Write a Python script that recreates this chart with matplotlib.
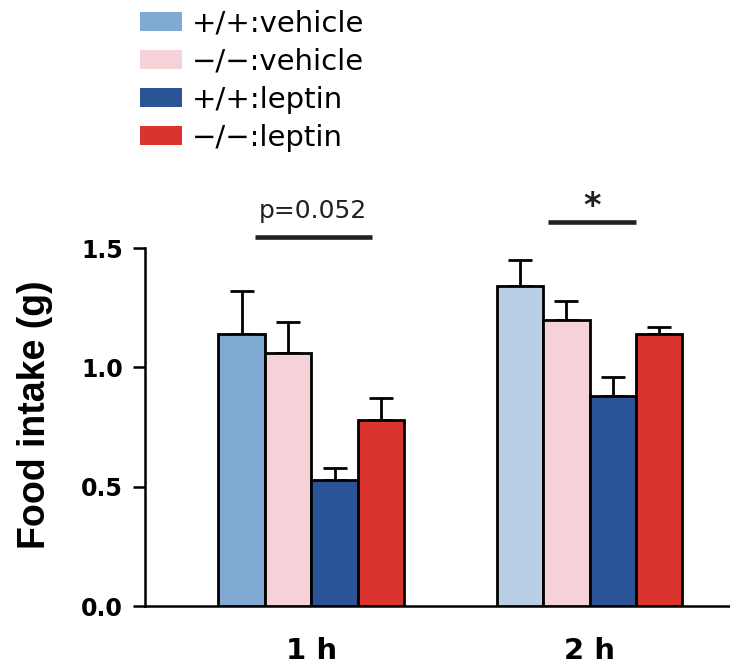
import matplotlib.pyplot as plt
from matplotlib.patches import Patch
import numpy as np

plt.rcParams['font.family'] = ['DejaVu Sans']

# data
timepoints = ["1 h", "2 h"]
groups = ["+/+:vehicle", "\u2212/\u2212:vehicle", "+/+:leptin", "\u2212/\u2212:leptin"]
means = {
    "+/+:vehicle":  [1.14, 1.34],
    "\u2212/\u2212:vehicle": [1.06, 1.20],
    "+/+:leptin":   [0.53, 0.88],
    "\u2212/\u2212:leptin": [0.78, 1.14],
}
sems = {
    "+/+:vehicle":  [0.18, 0.11],
    "\u2212/\u2212:vehicle": [0.13, 0.08],
    "+/+:leptin":   [0.05, 0.08],
    "\u2212/\u2212:leptin": [0.09, 0.03],
}
# bar colours per time point (first group is lighter at 2 h)
colors = {
    "+/+:vehicle":  ["#80AAD3", "#B9CFE6"],
    "\u2212/\u2212:vehicle": ["#F5D2D7", "#F5D2D7"],
    "+/+:leptin":   ["#2B5496", "#2B5496"],
    "\u2212/\u2212:leptin": ["#DB342E", "#DB342E"],
}
sig_labels = ["p=0.052", "*"]
sig_heights = [1.545, 1.61]

fig = plt.figure(figsize=(7.3, 6.64), dpi=100)
ax = fig.add_axes([0.1986, 0.0873, 0.8014, 0.539])

x = np.arange(len(timepoints))
w = 0.167
for i, g in enumerate(groups):
    pos = x + (i - 1.5) * w
    ax.bar(pos, means[g], width=w, color=colors[g], edgecolor='black',
           linewidth=2.0, zorder=3)
    ax.errorbar(pos, means[g], yerr=[np.zeros(len(pos)), sems[g]], fmt='none',
                ecolor='black', elinewidth=2.0, capsize=8.5, capthick=2.0, zorder=2)

# significance bars
spans = [(x[0] - 1.215 * w, x[0] + 1.30 * w), (x[1] - 0.90 * w, x[1] + 1.01 * w)]
for (x0, x1), h, lab in zip(spans, sig_heights, sig_labels):
    ax.plot([x0, x1], [h, h], color='#231f1c', linewidth=3.3,
            solid_capstyle='butt', clip_on=False)
    if lab == "*":
        ax.text((x0 + x1) / 2, h - 0.005, lab, ha='center', va='bottom',
                fontsize=24, fontweight='bold', color='#231f1c')
    else:
        ax.text((x0 + x1) / 2, h + 0.08, lab, ha='center', va='baseline',
                fontsize=18, color='#231f1c')

ax.set_xlim(x[0] - 0.598, x[1] + 0.505)
ax.set_ylim(0, 1.5)
ax.set_yticks([0.0, 0.5, 1.0, 1.5])
ax.set_yticklabels(["0.0", "0.5", "1.0", "1.5"], fontsize=17, fontweight='bold')
ax.set_xticks(x)
ax.set_xticklabels(timepoints, fontsize=21, fontweight='bold')
ax.tick_params(axis='x', length=0, pad=22)
ax.tick_params(axis='y', length=9, width=1.8, direction='out', pad=7)
ax.set_ylabel("Food intake (g)", fontsize=27, fontweight='bold',
              family='Liberation Sans')
ax.yaxis.set_label_coords(-0.158, 0.534)

for s in ['top', 'right']:
    ax.spines[s].set_visible(False)
for s in ['left', 'bottom']:
    ax.spines[s].set_linewidth(1.8)

handles = [Patch(facecolor=colors[g][0], edgecolor='none') for g in groups]
fig.legend(handles, groups, loc='upper left', bbox_to_anchor=(0.1918, 0.985),
           frameon=False, fontsize=21, handlelength=1.43, handleheight=0.62,
           handletextpad=0.34, labelspacing=0.34, borderpad=0,
           borderaxespad=0)

fig.savefig("out.png", dpi=100)
